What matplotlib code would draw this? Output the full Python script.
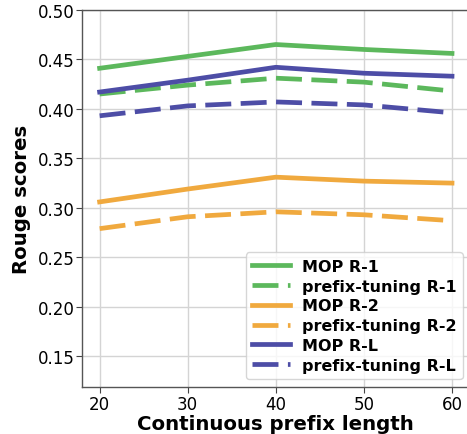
import matplotlib
matplotlib.use("Agg")
import matplotlib.pyplot as plt

# prefix length on x axis
prefix_len = [20, 30, 40, 50, 60]

mop_r1 = [0.441, 0.453, 0.465, 0.460, 0.456]
pt_r1 = [0.415, 0.424, 0.431, 0.427, 0.418]
mop_r2 = [0.306, 0.319, 0.331, 0.327, 0.325]
pt_r2 = [0.279, 0.291, 0.296, 0.293, 0.287]
mop_rl = [0.417, 0.429, 0.442, 0.436, 0.433]
pt_rl = [0.393, 0.403, 0.407, 0.404, 0.396]

green = '#5cb85c'
orange = '#f0a93e'
blue = '#4d4da6'

fig = plt.figure(figsize=(4.67, 4.35), dpi=100)
ax = fig.add_axes([0.1756, 0.108, 0.83, 0.867])

lw = 3.4
dash = (5.5, 2.0)
ax.plot(prefix_len, mop_r1, color=green, lw=lw, label='MOP R-1')
ax.plot(prefix_len, pt_r1, color=green, lw=lw, dashes=dash, label='prefix-tuning R-1')
ax.plot(prefix_len, mop_r2, color=orange, lw=lw, label='MOP R-2')
ax.plot(prefix_len, pt_r2, color=orange, lw=lw, dashes=dash, label='prefix-tuning R-2')
ax.plot(prefix_len, mop_rl, color=blue, lw=lw, label='MOP R-L')
ax.plot(prefix_len, pt_rl, color=blue, lw=lw, dashes=dash, label='prefix-tuning R-L')

ax.set_xlim(18, 62)
ax.set_ylim(0.119, 0.50)
ax.set_xticks([20, 30, 40, 50, 60])
ax.set_yticks([0.15, 0.20, 0.25, 0.30, 0.35, 0.40, 0.45, 0.50])
ax.set_yticklabels(['%.2f' % v for v in ax.get_yticks()])
ax.tick_params(labelsize=12, color='#444444', length=4, pad=1.5)
ax.grid(True, color='#d4d4d4', lw=1)
ax.set_axisbelow(True)
for s in ax.spines.values():
    s.set_color('#555555')
    s.set_linewidth(1)

ax.set_xlabel('Continuous prefix length', fontsize=14.2, fontweight='bold', labelpad=1)
ax.set_ylabel('Rouge scores', fontsize=14.2, fontweight='bold', labelpad=5)

ax.legend(loc='lower right', bbox_to_anchor=(0.982, 0.021), borderaxespad=0,
          prop={'weight': 'bold', 'size': 11.5},
          handlelength=2.4, labelspacing=0.3, borderpad=0.4, handletextpad=0.7)

fig.savefig('out.png', dpi=100)
